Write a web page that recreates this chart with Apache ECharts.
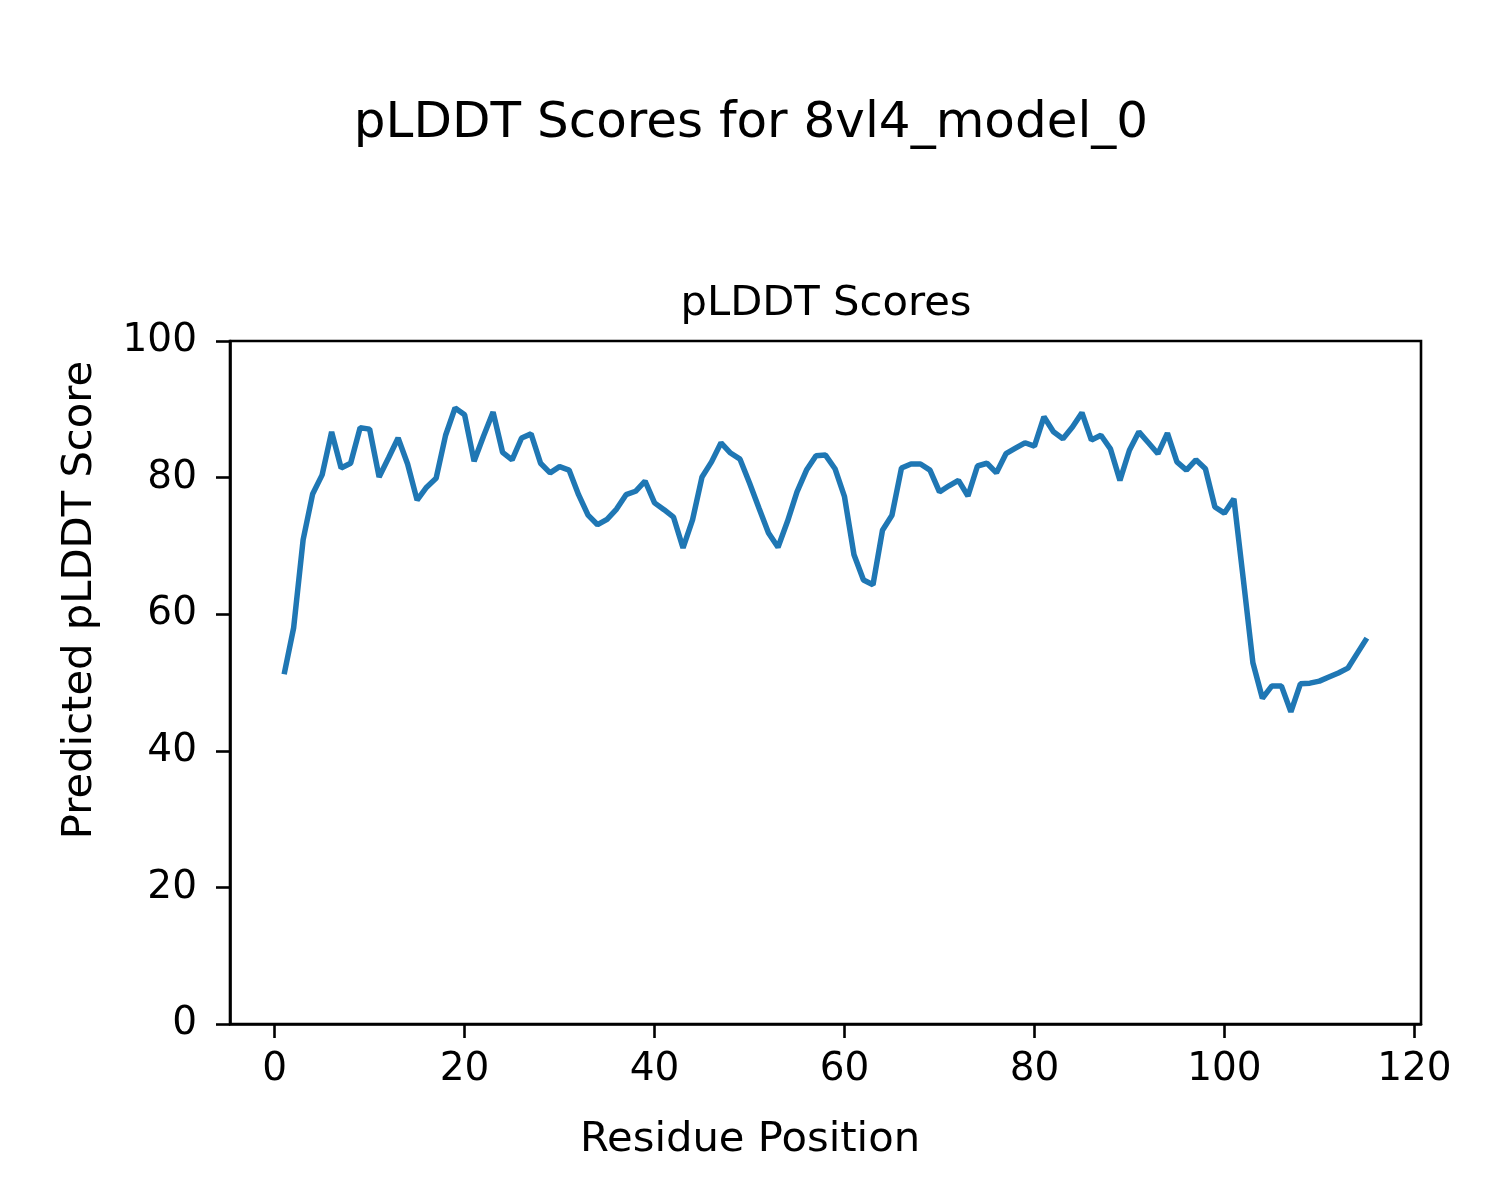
<!DOCTYPE html>
<html>
<head>
<meta charset="utf-8">
<script src="https://cdn.jsdelivr.net/npm/echarts@6/dist/echarts.min.js"></script>
<style>html,body{margin:0;padding:0;background:#fff;}#c{width:1500px;height:1200px;}</style>
</head>
<body>
<div id="c"></div>
<script>
const residues = Array.from({length: 115}, (_, i) => i + 1);
const plddt = [
51.2,58.0,70.9,77.6,80.4,86.7,81.4,82.1,87.3,87.1,
80.1,82.9,85.8,82.0,76.7,78.6,79.9,86.2,90.2,89.2,
82.4,86.1,89.6,83.7,82.6,85.8,86.4,82.1,80.7,81.6,
81.1,77.5,74.5,73.1,73.9,75.4,77.5,78.0,79.5,76.3,
75.3,74.2,69.7,73.8,80.1,82.3,85.1,83.6,82.7,79.2,
75.5,71.9,69.8,73.6,77.9,81.1,83.2,83.3,81.3,77.2,
68.7,65.0,64.3,72.3,74.5,81.4,82.0,82.0,81.1,77.9,
78.8,79.6,77.3,81.7,82.1,80.7,83.5,84.3,85.1,84.6,
88.9,86.7,85.7,87.4,89.5,85.5,86.2,84.2,79.6,84.0,
86.7,85.1,83.5,86.5,82.3,81.1,82.6,81.3,75.7,74.8,
76.9,65.0,52.9,47.7,49.5,49.5,45.7,49.8,49.9,50.2,
50.8,51.4,52.1,54.3,56.5
];
const xTicks = [0, 20, 40, 60, 80, 100, 120];
const yTicks = [0, 20, 40, 60, 80, 100];
const mainTitle = 'pLDDT Scores for 8vl4_model_0';
const subTitle = 'pLDDT Scores';
const xLabel = 'Residue Position';
const yLabel = 'Predicted pLDDT Score';

const font = 'DejaVu Sans';
const chart = echarts.init(document.getElementById('c'));
chart.setOption({
  backgroundColor: '#fff',
  animation: false,
  title: [
    {text: mainTitle, left: 746, textAlign: 'center', top: 94,
     textStyle: {fontFamily: font, fontSize: 50, fontWeight: 'normal', color: '#000'}},
    {text: subTitle, left: 821, textAlign: 'center', top: 278,
     textStyle: {fontFamily: font, fontSize: 41.7, fontWeight: 'normal', color: '#000'}}
  ],
  graphic: [
    {type: 'text', x: 750, y: 1140, style: {text: xLabel, fontFamily: font, fontSize: 41.7, fill: '#000', align: 'center', verticalAlign: 'middle'}},
    {type: 'text', x: 80, y: 600, rotation: Math.PI / 2, style: {text: yLabel, fontFamily: font, fontSize: 41.7, fill: '#000', align: 'center', verticalAlign: 'middle'}}
  ],
  grid: {left: 230, right: 79, top: 341, bottom: 176, show: true, borderColor: '#000', borderWidth: 2.6, backgroundColor: 'transparent'},
  xAxis: {
    type: 'value', min: -4.7, max: 120.7,
    axisLine: {show: true, onZero: false, lineStyle: {color: '#000', width: 2.6}},
    axisTick: {show: true, inside: false, length: 14, customValues: xTicks, lineStyle: {color: '#000', width: 2.6}},
    axisLabel: {customValues: xTicks, fontFamily: font, fontSize: 39, color: '#000', margin: 26},
    splitLine: {show: false}
  },
  yAxis: {
    type: 'value', min: 0, max: 100, interval: 20,
    axisLine: {show: true, onZero: false, lineStyle: {color: '#000', width: 2.6}},
    axisTick: {show: true, inside: false, length: 14, lineStyle: {color: '#000', width: 2.6}},
    axisLabel: {fontFamily: font, fontSize: 39, color: '#000', margin: 33},
    splitLine: {show: false}
  },
  series: [{
    type: 'line',
    data: residues.map((r, i) => [r, plddt[i]]),
    showSymbol: false,
    lineStyle: {color: '#1f77b4', width: 5.5},
    itemStyle: {color: '#1f77b4'}
  }]
});
</script>
</body>
</html>
